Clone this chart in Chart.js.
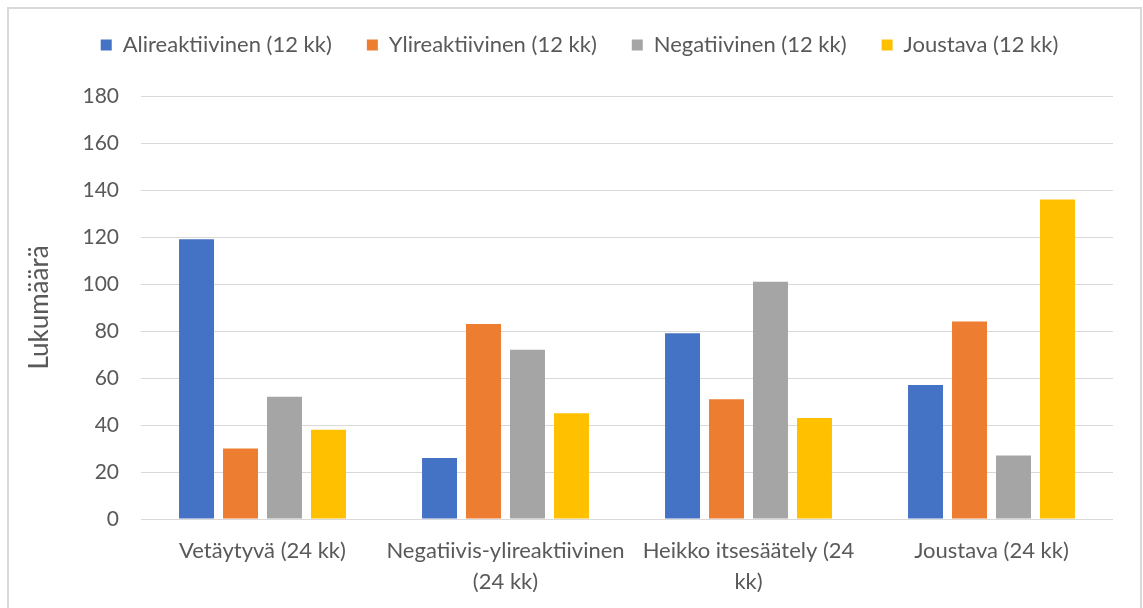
<!DOCTYPE html>
<html>
<head>
<meta charset="utf-8">
<script src="https://cdn.jsdelivr.net/npm/chart.js@4/dist/chart.umd.min.js"></script>
<style>
html,body{margin:0;padding:0;background:#fff;}
#wrap{position:relative;width:1143px;height:608px;}
</style>
</head>
<body>
<div id="wrap"><canvas id="c" width="1143" height="608"></canvas></div>
<script>
const categories = [
  "Vetäytyvä (24 kk)",
  ["Negatiivis-ylireaktiivinen", "(24 kk)"],
  ["Heikko itsesäätely (24", "kk)"],
  "Joustava (24 kk)"
];
const seriesNames = ["Alireaktiivinen (12 kk)", "Ylireaktiivinen (12 kk)", "Negatiivinen (12 kk)", "Joustava (12 kk)"];
const alireaktiivinen = [119, 26, 79, 57];
const ylireaktiivinen = [30, 83, 51, 84];
const negatiivinen = [52, 72, 101, 27];
const joustava = [38, 45, 43, 136];
const yTitle = "Lukumäärä";
const yMin = 0, yMax = 180, yStep = 20;

const colors = ["#4472C4", "#ED7D31", "#A5A5A5", "#FFC000"];
const seriesValues = [alireaktiivinen, ylireaktiivinen, negatiivinen, joustava];
const FONT = "Lato, 'Open Sans', sans-serif";
const TXT = "#595959";

const frame = {
  id: 'frame',
  beforeDraw(chart) {
    const ctx = chart.ctx;
    ctx.save();
    ctx.fillStyle = '#fff';
    ctx.fillRect(0, 0, chart.width, chart.height);
    ctx.strokeStyle = '#d9d9d9';
    ctx.lineWidth = 2;
    ctx.strokeRect(8, 8, 1133, 640);
    ctx.restore();
  }
};
const legendPos = {
  id: 'legendPos',
  beforeInit(chart) {
    const lg = chart.legend;
    if (!lg) return;
    const orig = lg.fit;
    lg.fit = function () {
      orig.call(this);
      this.height = 96;
    };
  },
  afterLayout(chart) {
    const lg = chart.legend;
    if (!lg) return;
    lg.top -= 1;
    lg.bottom -= 1;
    lg.left += 19;
    lg.right += 19;
  }
};

new Chart(document.getElementById('c'), {
  type: 'bar',
  data: {
    labels: categories,
    datasets: seriesNames.map((n, i) => ({
      label: n,
      data: seriesValues[i],
      backgroundColor: colors[i],
      borderWidth: 0,
      categoryPercentage: 0.724,
      barPercentage: 0.795
    }))
  },
  options: {
    responsive: false,
    animation: false,
    layout: { padding: { top: 0, left: 8, right: 30, bottom: 0 } },
    plugins: {
      legend: {
        position: 'top',
        labels: {
          boxWidth: 11, boxHeight: 11, padding: 35,
          color: TXT,
          font: { family: FONT, size: 22 }
        }
      },
      tooltip: { enabled: false }
    },
    scales: {
      x: {
        grid: { display: false },
        border: { display: false },
        ticks: {
          color: TXT, maxRotation: 0, autoSkip: false, padding: 9,
          font: { family: FONT, size: 22, lineHeight: 1.4 }
        },
        afterFit(s) { s.height = 89; }
      },
      y: {
        min: yMin, max: yMax,
        grid: { color: '#d9d9d9', lineWidth: 1, drawTicks: false },
        border: { display: false },
        ticks: {
          stepSize: yStep, color: TXT, padding: 22,
          font: { family: FONT, size: 21 }
        },
        title: {
          display: true, text: yTitle, color: TXT,
          font: { family: FONT, size: 26 },
          padding: { top: 16, bottom: 0 }
        },
        afterFit(s) { s.width = 133; }
      }
    }
  },
  plugins: [frame, legendPos]
});
</script>
</body>
</html>
